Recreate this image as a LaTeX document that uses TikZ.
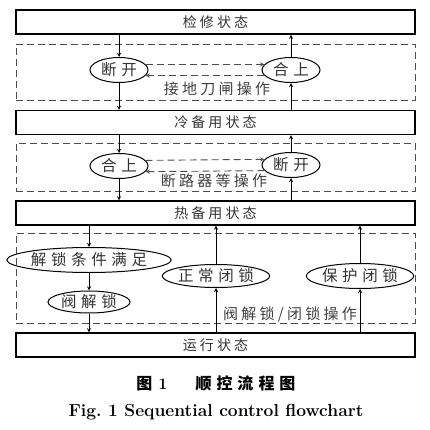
\documentclass[tikz,border=0pt]{standalone}
\usepackage{fontspec}
\usepackage{tikz}
\usetikzlibrary{shapes.geometric}
\newfontfamily\cjk[LetterSpace=22]{Noto Sans CJK SC}
\newfontfamily\cjkwide[LetterSpace=30]{Noto Sans CJK SC}
\tikzstyle{state}=[draw, line width=1.2pt, minimum width=399pt, minimum height=24pt, inner sep=0pt, font=\fontsize{14}{16}\cjk, text=black!80]
\tikzstyle{group}=[draw=black!70, dashed, dash pattern=on 7pt off 4pt, line width=0.9pt, minimum width=399pt]
\tikzstyle{oval}=[ellipse, draw, line width=1pt, inner sep=0pt, font=\fontsize{15.5}{17}\cjkwide, text=black!80]
\tikzstyle{optext}=[font=\fontsize{15}{17}\cjk, text=black!75]
\tikzstyle{arrow}=[->, >=stealth, line width=0.9pt]
\tikzstyle{oparrow}=[->, >=stealth, draw=black!70, line width=0.9pt, dash pattern=on 7pt off 4pt]

\begin{document}
\begin{tikzpicture}[x=1pt, y=-1pt]
    \useasboundingbox (0,0) rectangle (430,430);

    \node [group, minimum height=56pt] (group-1) at (215.5,72) {};
    \node [group, minimum height=48pt] (group-2) at (215.5,167) {};
    \node [group, minimum height=90pt] (group-3) at (215.5,278) {};

    \node [state] (state-1) at (215.5,22) {检修状态};
    \node [state] (state-2) at (215.5,122.5) {冷备用状态};
    \node [state] (state-3) at (215.5,213) {热备用状态};
    \node [state] (state-4) at (215.5,345) {运行状态};

    \node [oval, minimum width=58pt, minimum height=25pt] (open-1) at (119,70) {断开};
    \node [oval, minimum width=58pt, minimum height=25pt] (close-1) at (291,70) {合上};
    \node [oval, minimum width=58pt, minimum height=25pt] (close-2) at (119,166) {合上};
    \node [oval, minimum width=58pt, minimum height=25pt] (open-2) at (291,165) {断开};

    \node [oval, minimum width=129pt, minimum height=25pt] (unlock-cond) at (89,260) {解锁条件满足};
    \node [oval, minimum width=82pt, minimum height=22pt] (unlock) at (89,302) {阀解锁};
    \node [oval, minimum width=104pt, minimum height=23pt] (lock-normal) at (216,276) {正常闭锁};
    \node [oval, minimum width=105pt, minimum height=25pt] (lock-protect) at (360,276) {保护闭锁};

    \node [optext] (optext-1) at (217,89) {接地刀闸操作};
    \node [optext] (optext-2) at (214,181) {断路器等操作};
    \node [optext] (optext-3) at (290,314) {阀解锁/闭锁操作};

    % state changes
    \draw [arrow] (open-1 |- state-1.south) -- (open-1);
    \draw [arrow] (open-1) -- (open-1 |- state-2.north);
    \draw [arrow] (close-1 |- state-2.north) -- (close-1);
    \draw [arrow] (close-1) -- (close-1 |- state-1.south);

    \draw [arrow] (close-2 |- state-2.south) -- (close-2);
    \draw [arrow] (close-2) -- (close-2 |- state-3.north);
    \draw [arrow] (open-2 |- state-3.north) -- (open-2);
    \draw [arrow] (open-2) -- (open-2 |- state-2.south);

    \draw [arrow] (unlock-cond |- state-3.south) -- (unlock-cond);
    \draw [arrow] (unlock-cond) -- (unlock);
    \draw [arrow] (unlock) -- (unlock |- state-4.north);
    \foreach \i in {normal,protect} {
        \draw [arrow] (lock-\i |- state-4.north) -- (lock-\i);
        \draw [arrow] (lock-\i) -- (lock-\i |- state-3.south);
    }

    % operations between the ovals
    \foreach \a/\b in {open-1/close-1, close-2/open-2} {
        \draw [oparrow] (\a.12) -- (\b.168);
        \draw [oparrow] (\b.192) -- (\a.-12);
    }

    \node [] (caption-cn) at (216,383) {\fontsize{16}{18}\selectfont\bfseries{\cjk 图}\ 1\hspace{28pt}{\cjk 顺\hspace{5pt}控\hspace{5pt}流\hspace{5pt}程\hspace{5pt}图}};
    \node [] (caption-en) at (216,412) {\fontsize{17.4}{20}\selectfont\bfseries Fig.~1 Sequential control flowchart};
\end{tikzpicture}
\end{document}
